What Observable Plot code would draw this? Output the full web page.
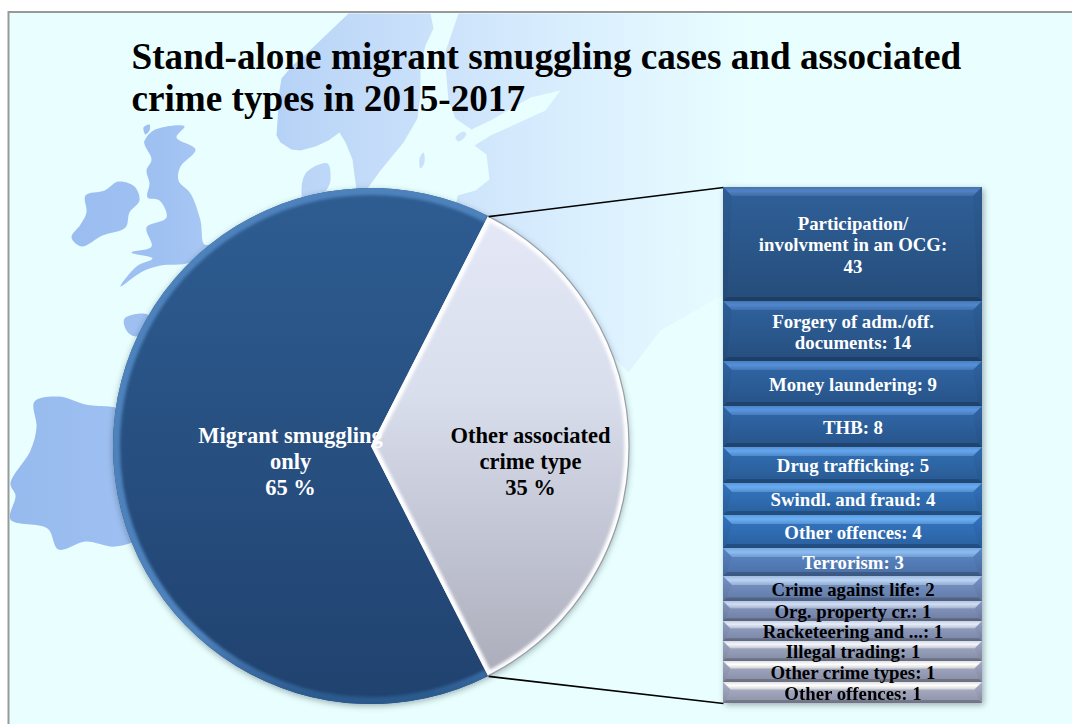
<!DOCTYPE html>
<html>
<head>
<meta charset="utf-8">
<script src="https://cdn.jsdelivr.net/npm/d3@7"></script>
<script src="https://cdn.jsdelivr.net/npm/@observablehq/plot@0.6"></script>
<style>
  html, body { margin: 0; background: #fff; overflow: hidden; }
  #stage { position: relative; width: 1072px; height: 724px; overflow: hidden; }
  #stage > svg { position: absolute; left: 0; top: 0; background: transparent; }
</style>
</head>
<body>
<div id="stage">
<svg width="0" height="0" aria-hidden="true">
  <defs>
    <linearGradient id="landFade" gradientUnits="userSpaceOnUse" x1="0" y1="0" x2="800" y2="0">
      <stop offset="0" stop-color="#97BAEE"/>
      <stop offset="0.2" stop-color="#9FC1F2"/>
      <stop offset="0.38" stop-color="#BAD5F7"/>
      <stop offset="0.56" stop-color="#CDE3FB"/>
      <stop offset="0.75" stop-color="#DCF1FE"/>
      <stop offset="0.95" stop-color="#E9FFFF"/>
    </linearGradient>
    <linearGradient id="sliceDark" gradientUnits="userSpaceOnUse" x1="0" y1="188" x2="0" y2="704">
      <stop offset="0" stop-color="#2E5D92"/>
      <stop offset="1" stop-color="#20426F"/>
    </linearGradient>
    <linearGradient id="sliceLight" gradientUnits="userSpaceOnUse" x1="0" y1="188" x2="0" y2="704">
      <stop offset="0" stop-color="#E6EAF8"/>
      <stop offset="0.4" stop-color="#D9DEEC"/>
      <stop offset="1" stop-color="#A7A8B6"/>
    </linearGradient>
    <linearGradient id="rimDark" gradientUnits="userSpaceOnUse" x1="0" y1="188" x2="0" y2="704">
      <stop offset="0" stop-color="#4E82BC"/>
      <stop offset="0.12" stop-color="#2A5A8E"/>
      <stop offset="0.4" stop-color="#1F4A7C"/>
      <stop offset="1" stop-color="#142F58"/>
    </linearGradient>
    <linearGradient id="rimLight" gradientUnits="userSpaceOnUse" x1="0" y1="188" x2="0" y2="704">
      <stop offset="0" stop-color="#FFFFFF"/>
      <stop offset="0.4" stop-color="#EDEFF6"/>
      <stop offset="0.6" stop-color="#A8AAB8"/>
      <stop offset="1" stop-color="#77788A"/>
    </linearGradient>
    <linearGradient id="rowShade" x1="0" y1="0" x2="0" y2="1">
      <stop offset="0" stop-color="#000" stop-opacity="0"/>
      <stop offset="1" stop-color="#000" stop-opacity="0.2"/>
    </linearGradient>
    <linearGradient id="lightFade" x1="0" y1="0" x2="0" y2="1">
      <stop offset="0" stop-color="#000" stop-opacity="0.12"/>
      <stop offset="0.45" stop-color="#000" stop-opacity="0"/>
      <stop offset="1" stop-color="#000" stop-opacity="0.18"/>
    </linearGradient>
    <filter id="soften" x="-10%" y="-10%" width="120%" height="120%"><feGaussianBlur stdDeviation="1.8"/></filter>
  </defs>
</svg>
</div>
<script>
// Share of stand-alone cases, 2015-2017
const shareLabels = ["Migrant smuggling\nonly\n", "Other associated\ncrime type\n"];
const shareValues = [65, 35];

// Associated crime types, largest first
const crimeLabels = [
  "Participation/\ninvolvment in an OCG:\n",
  "Forgery of adm./off.\ndocuments: ",
  "Money laundering: ",
  "THB: ",
  "Drug trafficking: ",
  "Swindl. and fraud: ",
  "Other offences: ",
  "Terrorism: ",
  "Crime against life: ",
  "Org. property cr.: ",
  "Racketeering and ...: ",
  "Illegal trading: ",
  "Other crime types: ",
  "Other offences: "
];
const crimeCounts = [43, 14, 9, 8, 5, 4, 4, 3, 2, 1, 1, 1, 1, 1];

// Row face and highlight colours
const rowFaces = ["#2F6099", "#2F629E", "#3067A8", "#3169AC", "#3270B6", "#3478C4", "#3478C6", "#5C8ACC", "#7A98CE", "#8A9CC8", "#98A6CC", "#A4AECC", "#A8B0CC", "#B0B6D0"];
const rowLights = ["#4F83C6", "#4F87CE", "#5590DC", "#5896E2", "#63A6F0", "#68ACF4", "#6AB0F8", "#8ABDF6", "#B8D4F8", "#CFDDF8", "#E4ECFC", "#F4F6FE", "#FFFFFF", "#FFFFFF"];

// Backdrop map outlines
const ireland = [[85,195],[104,190],[118,181],[134,186],[139,200],[129,212],[125,227],[102,235],[81,246],[71,237],[80,224],[86,212]];
const britain = [[153,130],[184,126],[176,137],[195,149],[180,166],[178,180],[190,193],[200,220],[204,244],[216,243],[190,262],[160,265],[142,271],[120,286],[136,266],[152,258],[131,252],[151,246],[146,227],[166,217],[159,200],[147,197],[149,183],[146,170],[151,159],[144,142]];
const shetland = [[143,127],[149,124],[149,130],[145,134]];
const hebrides = [[144,140],[150,140],[149,146],[145,145]];
const iberia = [[34,401],[58,396],[85,404],[125,412],[135,470],[140,535],[115,546],[85,541],[58,549],[47,528],[10,519],[15,495],[10,483],[30,450],[36,427]];
const brittany = [[124,318],[147,314],[152,325],[135,336],[126,330]];
const gotland = [[419,158],[423,152],[424,162],[420,168]];
const oland = [[455,137],[463,131],[466,134],[458,141]];
const denmark = [[302,200],[305,173],[327,163],[330,180],[325,196],[340,205],[310,212]];
const scandinavia = [[348,13],[430,13],[433,28],[425,45],[420,65],[420,95],[417,118],[403,142],[380,170],[362,195],[356,190],[352,159],[345,142],[339,132],[328,140],[315,146],[300,150],[291,149],[280,142],[276,135],[277,120],[278,105],[279,90],[281,78],[292,65],[305,54],[325,35]];
const eastland = [[458,13],[1072,13],[1072,300],[820,300],[720,296],[660,330],[628,372],[560,300],[460,260],[453,220],[457,195],[475,190],[489,179],[486,154],[474,145],[490,135],[545,110],[560,90],[530,97],[490,120],[471,129],[455,118],[448,100],[444,54]];

const stageNode = document.getElementById("stage");
const bodyFont = "'Liberation Serif', serif";

// Bar column box, and the row edges that give each count its height
const barLeft = 723, barRight = 982;
const rowEdges = [187, 301, 361, 406, 447, 483, 515, 548, 576, 601, 621, 641, 661, 682, 703];

// Pie geometry: the smaller slice is centred on the right-hand side
const pieCenter = [371, 446], pieRadius = 258;
const total = d3.sum(shareValues);
const firstAngle = Math.PI / 2 + Math.PI * shareValues[1] / total;
const slices = d3.pie().sort(null).startAngle(firstAngle).endAngle(firstAngle + 2 * Math.PI)(shareValues);
const sliceArc = d3.arc().innerRadius(0).outerRadius(pieRadius);
const rimArc = d3.arc().innerRadius(pieRadius).outerRadius(pieRadius);
const atAngle = a => [pieCenter[0] + pieRadius * Math.sin(a), pieCenter[1] - pieRadius * Math.cos(a)];
const sliceFills = ["url(#sliceDark)", "url(#sliceLight)"];
const sliceRims = ["url(#rimDark)", "url(#rimLight)"];
const sliceInk = ["#fff", "#000"];
const shareAnchors = [[290, 460], [530, 460]];

function landMark(curve) {
  return points => Plot.line(points, {x: d => d[0], y: d => d[1], fill: "url(#landFade)", stroke: "none", curve});
}

// Frame, map and title
const backdrop = Plot.plot({
  width: 1072, height: 724,
  margin: 0,
  x: {type: "identity", axis: null},
  y: {type: "identity", axis: null},
  style: {background: "transparent"},
  marks: [
    Plot.rect([0], {x1: 8.5, x2: 1090, y1: 12, y2: 740, fill: "#E9FFFF", stroke: "#999", strokeWidth: 2}),
    [ireland, britain, shetland, hebrides, iberia, brittany, denmark, gotland, oland].map(landMark("catmull-rom-closed")),
    [scandinavia, eastland].map(landMark("linear")),
    Plot.text(["Stand-alone migrant smuggling cases and associated\ncrime types in 2015-2017"], {
      x: 131, y: 76, text: d => d, textAnchor: "start",
      fontFamily: bodyFont, fontWeight: "bold", fontSize: 37.2, lineHeight: 1.13, fill: "#000"
    })
  ]
});

// Pie slices with a bevelled rim; the light slice also bevels along its radial edges
function pieSlices() {
  const g = d3.create("svg:g")
    .attr("transform", `translate(${pieCenter})`)
    .style("filter", "drop-shadow(0px 2px 3px rgba(40,60,70,0.4))");
  slices.forEach((s, i) => {
    const path = sliceArc(s);
    g.append("clipPath").attr("id", `sliceClip${i}`).append("path").attr("d", path);
    const body = g.append("g").attr("clip-path", `url(#sliceClip${i})`);
    const shifted = body.append("g").attr("transform", `translate(${-pieCenter[0]},${-pieCenter[1]})`);
    shifted.append("rect").attr("x", 0).attr("y", 0).attr("width", 1072).attr("height", 724).attr("fill", sliceFills[i]);
    shifted.append("path")
      .attr("transform", `translate(${pieCenter})`)
      .attr("d", i === 0 ? rimArc(s) : path).attr("fill", "none")
      .attr("stroke", sliceRims[i]).attr("stroke-width", i === 0 ? 14 : 9)
      .attr("filter", "url(#soften)");
    if (i === 1) {
      g.append("path").attr("d", rimArc(s)).attr("fill", "none")
        .attr("stroke", "#8A8C98").attr("stroke-width", 1.2).attr("stroke-opacity", 0.8);
    }
  });
  return g.node();
}

const overlay = Plot.plot({
  width: 1072, height: 724,
  margin: 0,
  x: {type: "identity", axis: null},
  y: {type: "identity", axis: null},
  style: {background: "transparent"},
  marks: [
    pieSlices,
    Plot.link([slices[0].startAngle, slices[0].endAngle], {
      x1: a => atAngle(a)[0],
      y1: a => atAngle(a)[1],
      x2: barLeft,
      y2: (a, i) => i === 0 ? rowEdges[rowEdges.length - 1] : rowEdges[0],
      stroke: "#000", strokeWidth: 1.6
    }),
    Plot.text(shareValues, {
      x: (d, i) => shareAnchors[i][0],
      y: (d, i) => shareAnchors[i][1],
      text: (d, i) => `${shareLabels[i]}${d} %`,
      fill: (d, i) => sliceInk[i],
      fontFamily: bodyFont, fontWeight: "bold", fontSize: 22.5, lineHeight: 1.16
    })
  ]
});

// Stack the counts top-down; each row spans its cumulative interval
const cumulative = d3.cumsum(crimeCounts);
const rows = crimeCounts.map((count, i) => ({
  count, label: crimeLabels[i],
  from: i ? cumulative[i - 1] : 0,
  to: cumulative[i],
  face: rowFaces[i], light: rowLights[i],
  ink: i < 8 ? "#fff" : "#000"
}));

// Highlighted top edge and shaded lower edge of every row
function rowBevels(index, {x, y}) {
  const g = d3.create("svg:g");
  const line = d3.line();
  for (const r of rows) {
    const x0 = x(0), x1 = x(1), y0 = y(r.from), y1 = y(r.to);
    const t = Math.min(9, (y1 - y0) * 0.36), b = Math.min(4, (y1 - y0) * 0.14);
    const top = line([[x0, y0], [x1, y0], [x1 - t, y0 + t], [x0 + t, y0 + t]]) + "Z";
    g.append("path").attr("fill", r.light).attr("d", top);
    g.append("path").attr("fill", "url(#lightFade)").attr("d", top);
    g.append("path").attr("fill", "#000").attr("fill-opacity", 0.2)
      .attr("d", line([[x0, y1], [x1, y1], [x1 - b, y1 - b], [x0 + b, y1 - b]]) + "Z");
    g.append("path").attr("fill", "#000").attr("fill-opacity", 0.04)
      .attr("d", line([[x0, y0], [x0 + t, y0 + t], [x0 + b, y1 - b], [x0, y1]]) + "Z");
    g.append("path").attr("fill", "#000").attr("fill-opacity", 0.04)
      .attr("d", line([[x1, y0], [x1 - t, y0 + t], [x1 - b, y1 - b], [x1, y1]]) + "Z");
  }
  return g.node();
}

const bars = Plot.plot({
  width: 1072, height: 724,
  margin: 0,
  x: {domain: [0, 1], range: [barLeft, barRight], axis: null},
  y: {type: "linear", domain: [0, ...cumulative], range: rowEdges, axis: null},
  style: {background: "transparent", filter: "drop-shadow(2px 2px 3px rgba(40,50,70,0.4))"},
  marks: [
    Plot.rect(rows, {x1: 0, x2: 1, y1: "from", y2: "to", fill: "face"}),
    Plot.rect(rows, {x1: 0, x2: 1, y1: "from", y2: "to", fill: "url(#rowShade)"}),
    rowBevels,
    Plot.text(rows, {
      x: 0.5,
      y: d => (d.from + d.to) / 2,
      text: d => `${d.label}${d.count}`,
      fill: "ink",
      fontFamily: bodyFont, fontWeight: "bold", fontSize: 18.8, lineHeight: 1.16
    })
  ]
});

stageNode.append(backdrop, overlay, bars);
</script>
</body>
</html>
